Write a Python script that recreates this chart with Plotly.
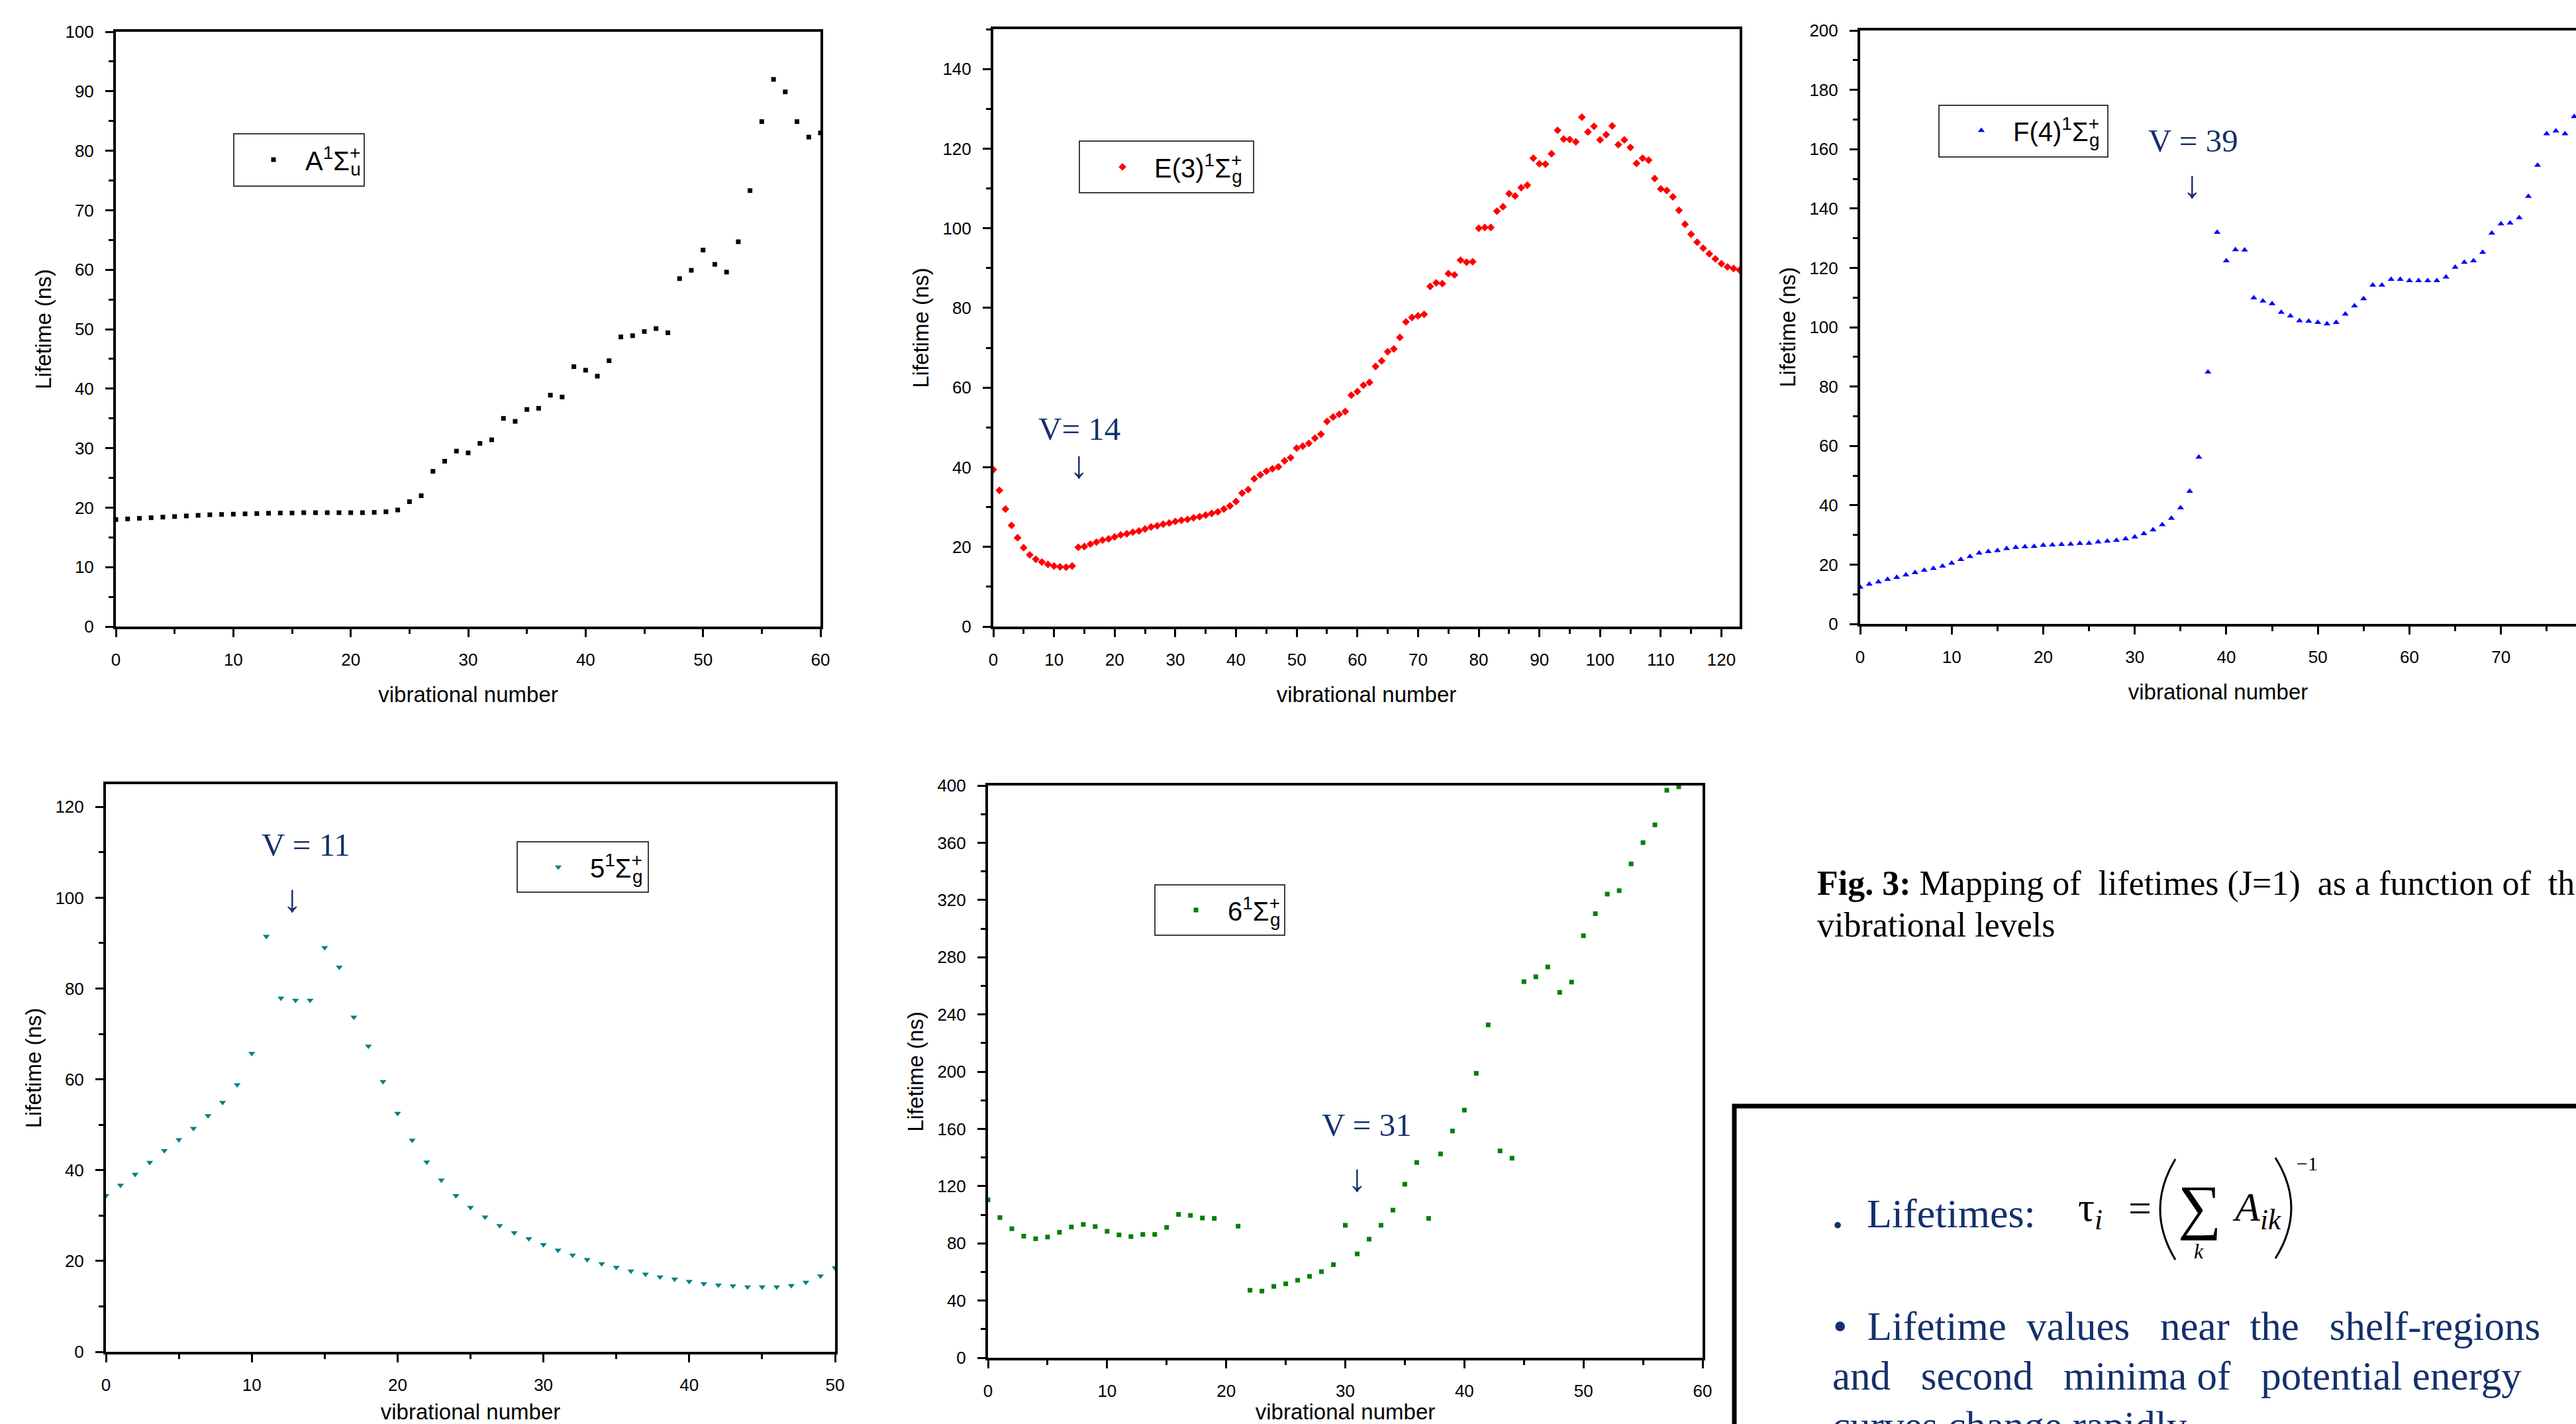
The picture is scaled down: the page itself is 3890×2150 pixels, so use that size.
import plotly.graph_objects as go

W, H = 3890, 2150

# ---------------- data ----------------
v_A = list(range(0, 61))
tau_A = [18.0, 18.1, 18.2, 18.3, 18.4, 18.5, 18.6, 18.7, 18.8, 18.85,
         18.9, 18.95, 19.0, 19.05, 19.1, 19.1, 19.15, 19.15, 19.15, 19.15,
         19.15, 19.15, 19.2, 19.3, 19.6, 21.0, 22.0, 26.1, 27.8, 29.5,
         29.2, 30.8, 31.4, 35.0, 34.5, 36.5, 36.7, 38.9, 38.6, 43.7,
         43.1, 42.1, 44.7, 48.7, 48.9, 49.6, 50.1, 49.4, 58.5, 59.9,
         63.3, 60.9, 59.6, 64.7, 73.3, 84.9, 92.0, 89.9, 84.9, 82.3, 83.0]

v_E = list(range(0, 124))
tau_E = [39.4, 34.2, 29.5, 25.4, 22.3, 19.8, 18.0, 16.9, 16.2, 15.6,
         15.2, 15.0, 14.9, 15.2, 19.9, 20.1, 20.7, 21.2, 21.7, 22.0,
         22.5, 23.0, 23.3, 23.7, 24.0, 24.5, 25.0, 25.3, 25.7, 26.0,
         26.4, 26.7, 26.9, 27.3, 27.6, 28.0, 28.4, 28.8, 29.5, 30.3,
         31.4, 33.5, 34.4, 37.1, 38.1, 39.0, 39.6, 40.1, 41.6, 42.4,
         44.8, 45.3, 46.0, 47.3, 48.3, 51.5, 52.6, 53.3, 54.0, 58.1,
         59.0, 60.6, 61.3, 65.3, 66.7, 69.0, 69.7, 72.6, 76.5, 77.6,
         78.0, 78.4, 85.4, 86.3, 86.1, 88.6, 88.3, 92.0, 91.5, 91.6,
         100.0, 100.2, 100.2, 104.3, 105.4, 108.7, 108.1, 110.2, 110.8, 117.6,
         116.2, 116.1, 118.7, 124.6, 122.4, 122.3, 121.7, 127.9, 124.2, 125.6,
         122.2, 123.5, 125.7, 121.0, 122.2, 120.3, 116.3, 117.6, 117.1, 112.5,
         109.9, 109.5, 107.9, 104.5, 101.0, 98.5, 96.5, 95.0, 93.6, 92.3,
         91.1, 90.3, 89.9, 89.5]

v_F = list(range(0, 79))
tau_F = [12.4, 13.4, 14.2, 15.0, 15.7, 16.5, 17.3, 18.1, 18.7, 19.5,
         20.5, 21.7, 22.7, 23.9, 24.4, 24.7, 25.4, 25.8, 26.0, 26.1,
         26.5, 26.6, 26.8, 26.9, 27.1, 27.2, 27.6, 27.9, 28.2, 28.7,
         29.3, 30.4, 31.7, 33.4, 35.6, 39.1, 44.7, 56.2, 84.9, 132.0,
         122.4, 126.1, 126.0, 109.9, 108.8, 107.9, 105.0, 103.8, 102.2, 102.0,
         101.6, 101.1, 101.6, 104.4, 107.2, 109.6, 114.2, 114.2, 116.1, 116.1,
         115.7, 115.7, 115.7, 115.7, 116.9, 120.2, 121.9, 122.4, 125.2, 131.7,
         134.8, 135.1, 136.9, 144.1, 154.6, 165.2, 166.1, 165.2, 171.0]

v_5 = list(range(0, 51))
tau_5 = [34.4, 36.7, 39.1, 41.7, 44.3, 46.7, 49.2, 52.0, 54.9, 58.8,
         65.7, 91.5, 77.9, 77.4, 77.4, 89.0, 84.7, 73.7, 67.3, 59.5,
         52.5, 46.6, 41.8, 37.8, 34.4, 31.8, 29.7, 27.8, 26.2, 24.9,
         23.6, 22.4, 21.3, 20.3, 19.4, 18.6, 17.8, 17.1, 16.5, 16.0,
         15.5, 15.0, 14.7, 14.5, 14.3, 14.3, 14.3, 14.6, 15.3, 16.7,
         18.5]

v_6 = [0, 1, 2, 3, 4, 5, 6, 7, 8, 9, 10, 11, 12, 13, 14, 15, 16, 17, 18, 19,
       21, 22, 23, 24, 25, 26, 27, 28, 29, 30, 31, 32, 33, 34, 35, 36, 37, 38, 39, 40,
       41, 42, 43, 44, 45, 46, 47, 48, 49, 50, 51, 52, 53, 54, 55, 56, 57, 58]
tau_6 = [110.4, 98.0, 90.2, 85.0, 83.2, 84.4, 87.7, 91.4, 93.2, 91.7,
         88.4, 85.9, 84.7, 86.2, 86.2, 91.1, 100.2, 99.5, 97.7, 97.4,
         92.0, 47.2, 46.6, 49.9, 51.7, 54.2, 56.9, 60.2, 65.1, 92.6,
         72.6, 82.9, 92.6, 103.2, 121.3, 136.5, 97.4, 142.5, 158.5, 173.1,
         198.8, 232.7, 144.6, 139.5, 262.9, 266.3, 273.2, 255.4, 262.6, 295.0,
         310.4, 324.1, 326.5, 345.2, 360.1, 372.5, 396.7, 399.1]

# state labels: prefix and the u/g subscript (the "+" is stacked above it)
state_prefix = ["A", "E(3)", "F(4)", "5", "6"]
state_sub = ["u", "g", "g", "g", "g"]

# ---------------- helpers ----------------
def px(x):
    return x / W


def py(y):
    return 1 - y / H


NAVY = "#14306C"
SANS = "Liberation Sans, Arial, sans-serif"
SERIF = "Liberation Serif, Times New Roman, serif"


def state_label(prefix, sub):
    return (prefix + "<sup>1</sup>Σ<sup><span style='letter-spacing:-15px'>+</span></sup>"
            + "<sub>" + sub + "</sub>")


fig = go.Figure()

# panel definitions: pixel box (left, top, right, bottom), ranges, ticks
panels = [
    dict(v=v_A, t=tau_A, box=(175, 48, 1239, 946), xr=[0, 60], yr=[0, 100], ydt=10,
         sym="square", size=7, color="black", leg=(413, 241)),
    dict(v=v_E, t=tau_E, box=(1500, 44, 2627, 946), xr=[0, 123], yr=[0, 150], ydt=20,
         sym="diamond", size=9, color="#FF0000", leg=(1695, 252)),
    dict(v=v_F, t=tau_F, box=(2809, 46, W, 942), xr=[0, 78.2], yr=[0, 200], ydt=20,
         sym="triangle-up", size=9, color="#0000FF", leg=(2992, 197)),
    dict(v=v_5, t=tau_5, box=(160, 1184, 1261, 2041), xr=[0, 50], yr=[0, 125], ydt=20,
         sym="triangle-down", size=9, color="#008080", leg=(843, 1309)),
    dict(v=v_6, t=tau_6, box=(1492, 1186, 2571, 2050), xr=[0, 60], yr=[0, 400], ydt=40,
         sym="square", size=7, color="#008000", leg=(1806, 1374)),
]

ITEMW = 86
for i, p in enumerate(panels):
    n = i + 1
    sfx = "" if n == 1 else str(n)
    lname = "legend" if n == 1 else f"legend{n}"
    fig.add_trace(go.Scatter(
        x=p["v"], y=p["t"], mode="markers", name=state_label(state_prefix[i], state_sub[i]),
        marker=dict(symbol=p["sym"], size=p["size"], color=p["color"], line=dict(width=0)),
        xaxis="x" + sfx, yaxis="y" + sfx, legend=lname, showlegend=True))
    l, t, r, b = p["box"]
    common = dict(showline=True, linewidth=4, linecolor="black", automargin=False,
                  ticks="outside", ticklen=12, tickwidth=3, tickcolor="black",
                  showgrid=False, zeroline=False,
                  tickfont=dict(family=SANS, size=26, color="black"),
                  ticklabelstandoff=12)
    xa = dict(common, domain=[px(l), px(r)], range=p["xr"], anchor="y" + sfx,
              mirror=True, tick0=0, dtick=10,
              minor=dict(ticks="outside", ticklen=7, tickwidth=3, tickcolor="black",
                         dtick=5, tick0=0, showgrid=False),
              title=dict(text="vibrational number", font=dict(family=SANS, size=33, color="black"),
                         standoff=28))
    ya = dict(common, domain=[py(b), py(t)], range=p["yr"], anchor="x" + sfx,
              mirror=(n != 3), tick0=0, dtick=p["ydt"],
              minor=dict(ticks="outside", ticklen=7, tickwidth=3, tickcolor="black",
                         dtick=p["ydt"] / 2, tick0=0, showgrid=False),
              title=dict(text="Lifetime (ns)", font=dict(family=SANS, size=33, color="black"),
                         standoff=12))
    fig.update_layout(**{"xaxis" + sfx: xa, "yaxis" + sfx: ya})
    mx, my = p["leg"]
    fig.update_layout(**{lname: dict(
        x=px(mx - ITEMW / 2 - 5), y=py(my), xanchor="left", yanchor="middle",
        bgcolor="rgba(0,0,0,0)", borderwidth=0, itemwidth=ITEMW,
        font=dict(family=SANS, size=40, color="black"))})

# legend frames
legend_boxes = [(353, 202, 550, 281), (1630, 213, 1893, 291), (2928, 159, 3183, 237),
                (781, 1271, 979, 1347), (1744, 1336, 1940, 1412)]
shapes = []
for (l, t, r, b) in legend_boxes:
    shapes.append(dict(type="rect", xref="paper", yref="paper",
                       x0=px(l), x1=px(r), y0=py(b), y1=py(t),
                       line=dict(color="black", width=1.5), fillcolor="rgba(0,0,0,0)"))

# bottom-right framed box
shapes.append(dict(type="rect", xref="paper", yref="paper",
                   x0=px(2619), x1=1.05, y0=-0.05, y1=py(1670),
                   line=dict(color="black", width=7), fillcolor="rgba(0,0,0,0)"))


# big parentheses of the formula
def paren(xe, xm, yt, yb):
    ym = (yt + yb) / 2
    cx = 2 * xm - xe
    return dict(type="path", xref="paper", yref="paper",
                path=f"M {px(xe)},{py(yt)} Q {px(cx)},{py(ym)} {px(xe)},{py(yb)}",
                line=dict(color="black", width=3))


shapes.append(paren(3285, 3262, 1750, 1902))
shapes.append(paren(3436, 3460, 1748, 1900))

annotations = []

# v = ... markers on the panels
vlabels = [
    ("V= 14", "x2", "y2", 14.2, 49.7, 14.1, 40.7),
    ("V = 39", "x3", "y3", 36.4, 162.8, 36.3, 148.0),
    ("V = 11", "x4", "y4", 13.7, 111.7, 12.8, 99.9),
    ("V = 31", "x5", "y5", 31.8, 162.5, 31.0, 125.5),
]
for (txt, xr, yr, tx, ty, ax_, ay_) in vlabels:
    annotations.append(dict(text=txt, x=tx, y=ty, xref=xr, yref=yr, showarrow=False,
                            xanchor="center", yanchor="middle",
                            font=dict(family=SERIF, size=49, color=NAVY)))
    annotations.append(dict(text="↓", x=ax_, y=ay_, xref=xr, yref=yr, showarrow=False,
                            xanchor="center", yanchor="middle",
                            font=dict(family=SERIF, size=58, color=NAVY)))


def note(text, x, y, size, color="black", family=SERIF, xanchor="left", yanchor="middle"):
    annotations.append(dict(text=text, x=px(x), y=py(y), xref="paper", yref="paper",
                            showarrow=False, xanchor=xanchor, yanchor=yanchor,
                            font=dict(family=family, size=size, color=color)))


NB = "\u00a0"
# caption
note("<b>Fig. 3:</b> Mapping of" + NB + " lifetimes (J=1)" + NB + " as a function of" + NB + " the",
     2742, 1352 - 0.34 * 52, 52)
note("vibrational levels", 2742, 1414 - 0.34 * 52, 52)

# formula line
note("•", 2775, 1850, 40, NAVY, xanchor="center")
note("Lifetimes:", 2817, 1853 - 0.34 * 62, 62, NAVY)
note("τ<sub><i>i</i></sub>", 3136, 1840 - 0.34 * 62 + 8, 62)
note("=", 3212, 1824, 62)
note("∑", 3322, 1822, 92, xanchor="center")
note("<i>k</i>", 3320, 1889, 32, xanchor="center")
note("<i>A</i><sub><i>ik</i></sub>", 3369, 1840 - 0.34 * 62 + 8, 62)
note("−1", 3466, 1756, 30)

# bullet paragraph
note("•" + NB + " Lifetime" + NB + " values" + NB + NB + " near" + NB + " the" + NB + NB + " shelf-regions",
     2766, 2023 - 0.34 * 61, 61, NAVY)
note("and" + NB + NB + " second" + NB + NB + " minima of" + NB + NB + " potential energy",
     2765, 2098 - 0.34 * 61, 61, NAVY)
note("curves change rapidly", 2765, 2173 - 0.34 * 61, 61, NAVY)

fig.update_layout(
    template="none",
    width=W, height=H, autosize=False,
    margin=dict(l=0, r=0, t=0, b=0, pad=0),
    paper_bgcolor="white", plot_bgcolor="white",
    shapes=shapes, annotations=annotations,
    font=dict(family=SANS, color="black"),
)

fig.write_html("out.html", config={"displayModeBar": False},
               post_script="document.body.style.margin='0';document.body.style.overflow='hidden';")
